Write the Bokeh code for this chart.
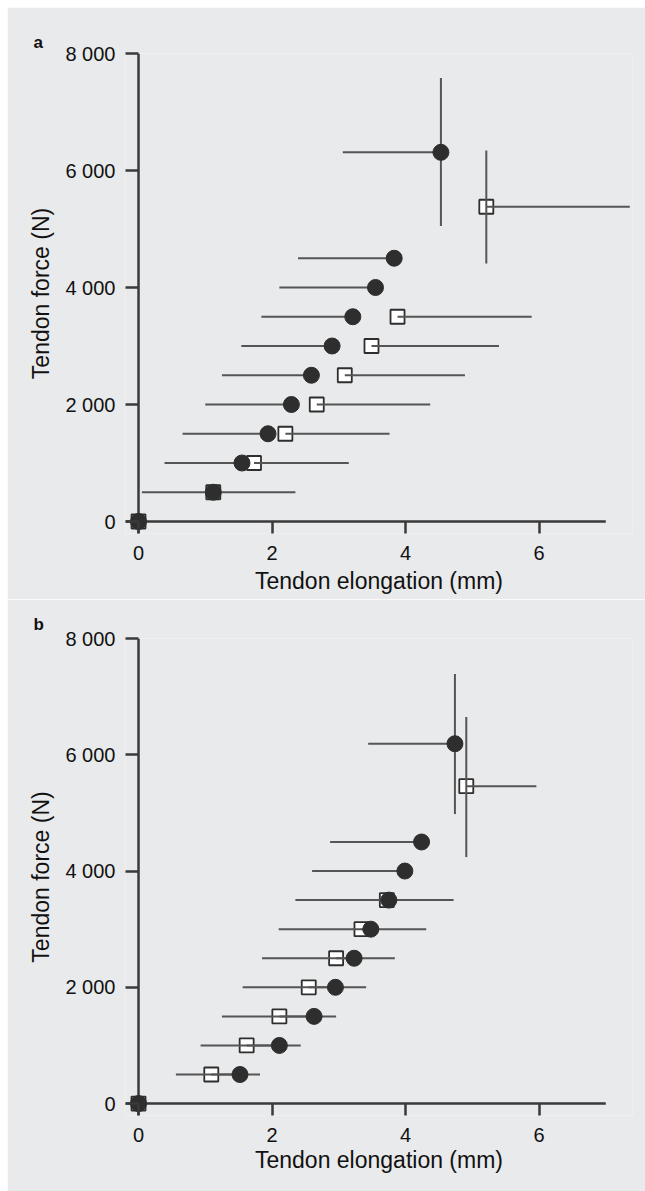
from bokeh.plotting import figure
from bokeh.layouts import column, row
from bokeh.models import Range1d, FixedTicker, Span, BoxAnnotation, Spacer
from bokeh.embed import file_html
from bokeh.resources import INLINE

# ---------------- data (elongation in mm, force in N) ----------------
# Panel a
a_circle_force = [0, 500, 1000, 1500, 2000, 2500, 3000, 3500, 4000, 4500, 6310]
a_circle_elong = [0, 1.12, 1.55, 1.94, 2.29, 2.59, 2.90, 3.21, 3.55, 3.83, 4.53]
a_circle_elong_low = [0, 0.05, 0.39, 0.66, 1.00, 1.25, 1.54, 1.84, 2.11, 2.39, 3.06]
a_circle_fail_force_range = [5050, 7580]
a_square_force = [0, 500, 1000, 1500, 2000, 2500, 3000, 3500, 5380]
a_square_elong = [0, 1.12, 1.73, 2.20, 2.67, 3.09, 3.49, 3.88, 5.21]
a_square_elong_high = [0, 2.35, 3.15, 3.76, 4.37, 4.89, 5.40, 5.89, 7.36]
a_square_fail_force_range = [4410, 6340]

# Panel b
b_circle_force = [0, 500, 1000, 1500, 2000, 2500, 3000, 3500, 4000, 4500, 6190]
b_circle_elong = [0, 1.52, 2.11, 2.63, 2.95, 3.23, 3.48, 3.75, 3.99, 4.24, 4.74]
b_circle_elong_low = [0, 0.56, 0.93, 1.25, 1.56, 1.85, 2.10, 2.35, 2.60, 2.87, 3.44]
b_circle_fail_force_range = [4980, 7390]
b_square_force = [0, 500, 1000, 1500, 2000, 2500, 3000, 3500, 5460]
b_square_elong = [0, 1.09, 1.62, 2.11, 2.55, 2.96, 3.34, 3.72, 4.91]
b_square_elong_high = [0, 1.82, 2.43, 2.96, 3.41, 3.84, 4.31, 4.72, 5.96]
b_square_fail_force_range = [4240, 6650]

x_ticks = [0, 2, 4, 6]
x_tick_labels = ["0", "2", "4", "6"]
x_axis_end = 7
y_ticks = [0, 2000, 4000, 6000, 8000]
y_tick_labels = ["0", "2 000", "4 000", "6 000", "8 000"]
y_axis_end = 8000
x_label = "Tendon elongation (mm)"
y_label = "Tendon force (N)"
panel_labels = ["a", "b"]

# ---------------- style ----------------
BG = "#e9eaeb"
AXIS = "#3a3a3a"
ERR = "#555555"
DOT = "#2e2e2e"
TXT = "#111111"
FONT = "Liberation Sans"
X_START, X_END = -0.195, 7.4      # view range (mm)
Y_START = -205                    # view range start (N)


def make_panel(label, cf, ce, ce_low, c_fail, sf, se, se_high, s_fail,
               frame_h, top, bottom, xlab_standoff, title_standoff):
    p = figure(frame_width=507, frame_height=frame_h,
               x_range=Range1d(X_START, X_END), y_range=Range1d(Y_START, y_axis_end),
               output_backend="svg", toolbar_location=None,
               min_border_left=118, min_border_right=13,
               min_border_top=top, min_border_bottom=bottom,
               background_fill_color=BG, border_fill_color=BG,
               outline_line_color=None)
    p.grid.visible = False

    # panel letter
    p.title.text = label
    p.title.text_font = FONT
    p.title.text_font_size = "17px"
    p.title.text_font_style = "bold"
    p.title.text_color = TXT
    p.title.align = "left"
    p.title.offset = -92
    p.title.standoff = title_standoff

    for ax in (p.xaxis[0], p.yaxis[0]):
        ax.axis_line_color = None
        ax.major_tick_line_color = AXIS
        ax.major_tick_line_width = 2.5
        ax.major_tick_out = 0
        ax.minor_tick_line_color = None
        ax.major_label_text_font = FONT
        ax.major_label_text_font_size = "20px"
        ax.major_label_text_color = TXT
        ax.axis_label_text_font = FONT
        ax.axis_label_text_font_size = "23px"
        ax.axis_label_text_font_style = "normal"
        ax.axis_label_text_color = TXT

    xa = p.xaxis[0]
    xa.ticker = FixedTicker(ticks=x_ticks)
    xa.major_label_overrides = dict(zip(x_ticks, x_tick_labels))
    xa.major_tick_in = 12
    xa.major_label_standoff = 12
    xa.axis_label = x_label
    xa.axis_label_standoff = xlab_standoff

    ya = p.yaxis[0]
    ya.ticker = FixedTicker(ticks=y_ticks)
    ya.major_label_overrides = dict(zip(y_ticks, y_tick_labels))
    ya.major_tick_in = 13
    ya.major_label_standoff = 10
    ya.axis_label = y_label
    ya.axis_label_standoff = 8

    # axis lines crossing at the origin
    p.add_layout(Span(location=0, dimension="height", line_color=AXIS,
                      line_width=2.5, level="underlay"))
    p.add_layout(BoxAnnotation(left=X_START, right=x_axis_end, bottom=0, top=0,
                               fill_alpha=0, line_color=AXIS, line_alpha=1,
                               line_width=2.5, level="underlay"))

    # squares first (error lines are drawn over them)
    p.scatter(se, sf, marker="square", size=14, fill_color="white",
              line_color=DOT, line_width=1.8)
    # horizontal error bars
    p.segment(x0=ce_low, y0=cf, x1=ce, y1=cf, line_color=ERR, line_width=2)
    p.segment(x0=se, y0=sf, x1=se_high, y1=sf, line_color=ERR, line_width=2)
    # vertical error bars of the failure points
    p.segment(x0=[ce[-1]], y0=[c_fail[0]], x1=[ce[-1]], y1=[c_fail[1]],
              line_color=ERR, line_width=2)
    p.segment(x0=[se[-1]], y0=[s_fail[0]], x1=[se[-1]], y1=[s_fail[1]],
              line_color=ERR, line_width=2)
    # circles on top
    p.scatter(ce, cf, marker="circle", size=16, fill_color=DOT, line_color=DOT)
    return p


pa = make_panel(panel_labels[0], a_circle_force, a_circle_elong, a_circle_elong_low,
                a_circle_fail_force_range, a_square_force, a_square_elong,
                a_square_elong_high, a_square_fail_force_range,
                frame_h=480, top=46, bottom=66, xlab_standoff=5, title_standoff=4)
pb = make_panel(panel_labels[1], b_circle_force, b_circle_elong, b_circle_elong_low,
                b_circle_fail_force_range, b_square_force, b_square_elong,
                b_square_elong_high, b_square_fail_force_range,
                frame_h=477, top=39, bottom=76, xlab_standoff=2, title_standoff=10)

layout = column(Spacer(height=7), row(Spacer(width=7), column(pa, pb, spacing=0), spacing=0),
                spacing=0)
open("out.html", "w").write(file_html(layout, INLINE))
